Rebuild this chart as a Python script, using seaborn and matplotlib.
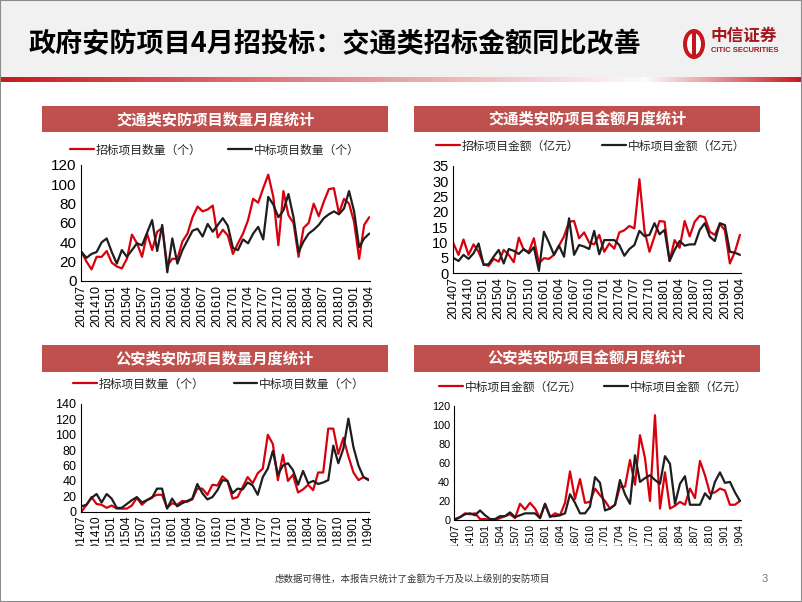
import numpy as np
import pandas as pd
import matplotlib
matplotlib.use('Agg')
import matplotlib.pyplot as plt
import seaborn as sns
from matplotlib.patches import Rectangle, Ellipse

sns.set_theme(style='white')
plt.rcParams['font.family'] = ['Noto Sans CJK SC', 'DejaVu Sans']

# ---- data ----
months = [f'{y}{m:02d}' for y in range(2014, 2020) for m in range(1, 13)]
months = months[months.index('201407'):months.index('201904') + 1]

traffic_count_bid = [30, 20, 12, 25, 25, 31, 19, 15, 13, 23, 48, 39, 25, 49, 32, 51, 55, 16, 23, 23,
                     41, 49, 66, 77, 72, 74, 78, 45, 53, 47, 28, 39, 49, 63, 85, 81, 96, 110, 87, 37,
                     93, 68, 60, 25, 55, 60, 80, 67, 82, 95, 96, 70, 85, 80, 61, 23, 58, 66]
traffic_count_win = [30, 24, 28, 30, 40, 44, 30, 18, 32, 25, 32, 39, 37, 50, 63, 31, 58, 9, 44, 18,
                     32, 42, 52, 54, 46, 59, 51, 58, 65, 57, 34, 32, 43, 39, 49, 56, 43, 87, 79, 66,
                     73, 90, 66, 30, 41, 49, 53, 58, 65, 69, 72, 69, 75, 93, 72, 35, 44, 49]

traffic_amt_bid = [9.7, 6, 11, 6, 9.4, 7, 3, 2.4, 4.7, 3.8, 7.6, 6, 3.6, 11.6, 7.6, 7, 11.4, 3.2, 4.9, 4.7,
                   6, 9, 12, 16.8, 17, 11.4, 13.3, 10, 9.4, 12.5, 7, 9.7, 8, 13.3, 14, 15.4, 14.6, 30.6, 14, 7,
                   12, 17, 16.8, 4, 10.8, 8.3, 17, 12, 16.8, 18.7, 18.2, 13.5, 12.5, 16, 14, 3.2, 7, 12.5]
traffic_amt_win = [5, 4, 6, 4.7, 6.5, 9.7, 2.7, 3, 5.4, 7.6, 3.2, 7.9, 7.3, 6.3, 7.9, 6.5, 8.5, 0.8, 13.5, 10,
                   6, 9, 5.4, 17.9, 6, 9.2, 8.7, 7.9, 13.8, 6.2, 10.8, 10.8, 10.8, 9.2, 5.7, 7.9, 9.2, 13.8, 12.1, 12.5,
                   16.3, 12.7, 14.1, 4, 7.6, 10.5, 9, 9.4, 9.4, 14.1, 16.3, 11.9, 10.5, 16.3, 15.7, 7, 6.7, 6]

police_count_bid = [0, 9, 19, 10, 9, 5, 8, 4, 4, 4, 8, 18, 9, 15, 19, 22, 22, 5, 11, 9,
                    14, 13, 16, 30, 30, 22, 35, 34, 46, 40, 17, 19, 32, 45, 37, 50, 56, 100, 88, 41,
                    74, 40, 48, 25, 29, 35, 28, 51, 51, 108, 108, 75, 96, 72, 51, 41, 45, 42]
police_count_win = [7, 9, 18, 23, 12, 23, 17, 5, 5, 10, 15, 19, 12, 15, 18, 30, 30, 4, 17, 7,
                    11, 14, 17, 36, 24, 16, 19, 28, 41, 40, 24, 30, 29, 38, 34, 22, 45, 56, 79, 48,
                    60, 63, 54, 35, 53, 37, 40, 36, 38, 41, 86, 63, 82, 121, 84, 60, 45, 41]

police_amt_bid = [0, 3, 7, 6, 7, 1, 1, 0, 0, 2, 4, 6, 2, 17, 11, 18, 12, 2, 17, 3,
                  7, 5, 18, 51, 22, 43, 18, 19, 33, 26, 20, 12, 16, 35, 35, 63, 37, 89, 65, 20,
                  110, 12, 50, 12, 15, 19, 16, 33, 23, 62, 47, 28, 29, 33, 31, 16, 16, 20]
police_amt_win = [1, 3, 6, 7, 5, 10, 5, 1, 1, 4, 4, 8, 3, 5, 7, 7, 7, 2, 17, 4,
                  4, 5, 7, 27, 18, 7, 7, 14, 45, 39, 10, 12, 16, 42, 27, 17, 68, 40, 44, 47,
                  42, 38, 67, 59, 17, 38, 46, 16, 16, 16, 28, 22, 40, 50, 39, 40, 29, 20]

page_title = '政府安防项目4月招投标：交通类招标金额同比改善'
footer = '虑数据可得性，本报告只统计了金额为千万及以上级别的安防项目'

RED = '#d9000d'
BLACK = '#1e1e1e'
BAR = '#c0504d'

W, H = 802, 602
fig = plt.figure(figsize=(W / 100, H / 100), dpi=100)
fig.patch.set_facecolor('white')


def fx(px):
    return px / W


def fy(py):
    return 1 - py / H


# ---- header ----
fig.add_artist(Rectangle((0, fy(77)), 1, 77 / H, transform=fig.transFigure,
                         facecolor='#f1f1f1', edgecolor='none', zorder=-2))
grad_ax = fig.add_axes([0, fy(82), 1, 5 / H])
xs = np.linspace(0, 1, 400)
alpha = np.where(xs < 0.8, 1 - xs / 0.8 * 0.97, (xs - 0.8) / 0.2)
img = np.zeros((1, 400, 4))
img[..., 0] = 0.78
img[..., 1] = 0.1
img[..., 2] = 0.12
img[..., 3] = np.clip(alpha, 0, 1)
grad_ax.imshow(img, aspect='auto', extent=(0, 1, 0, 1))
grad_ax.axis('off')

fig.text(fx(28), fy(44), page_title, fontsize=19.5, fontweight='bold',
         color='black', va='center', ha='left')

# logo
fig.add_artist(Ellipse((fx(694), fy(44)), 22 / W, 30 / H, transform=fig.transFigure,
                       facecolor='#c4161c', edgecolor='none'))
fig.add_artist(Ellipse((fx(694), fy(44)), 14 / W, 22 / H, transform=fig.transFigure,
                       facecolor='white', edgecolor='none'))
fig.add_artist(Rectangle((fx(692), fy(55)), 4 / W, 22 / H, transform=fig.transFigure,
                         facecolor='#c4161c', edgecolor='none'))
fig.text(fx(711), fy(36), '中信证券', fontsize=12, fontweight='bold', color='#a3161b',
         va='center', ha='left')
fig.text(fx(711), fy(51), 'CITIC SECURITIES', fontsize=5.5, fontweight='bold', color='#a3161b',
         va='center', ha='left', family='Liberation Sans')

# ---- panels ----
panels = [
    dict(rect=(80.7, 165, 370, 281), bar=(42, 106, 388, 132), title='交通类安防项目数量月度统计',
         labels=['招标项目数量（个）', '中标项目数量（个）'], series=(traffic_count_bid, traffic_count_win),
         ylim=120, ystep=20, yfs=11, xfs=9, leg=(70, 150), colsp=2.3),
    dict(rect=(452.7, 165.7, 740.7, 273.3), bar=(414, 106, 760, 132), title='交通类安防项目金额月度统计',
         labels=['招标项目金额（亿元）', '中标项目金额（亿元）'], series=(traffic_amt_bid, traffic_amt_win),
         ylim=35, ystep=5, yfs=10.5, xfs=9, leg=(436, 146), colsp=2.0),
    dict(rect=(80.7, 404, 369.3, 511.7), bar=(42, 345, 388, 372), title='公安类安防项目数量月度统计',
         labels=['招标项目数量（个）', '中标项目数量（个）'], series=(police_count_bid, police_count_win),
         ylim=140, ystep=20, yfs=9, xfs=8.5, leg=(73, 384), colsp=2.5),
    dict(rect=(454.3, 405.7, 740.7, 520), bar=(414, 345, 760, 372), title='公安类安防项目金额月度统计',
         labels=['中标项目金额（亿元）', '中标项目金额（亿元）'], series=(police_amt_bid, police_amt_win),
         ylim=120, ystep=20, yfs=7.8, xfs=7.6, leg=(439, 387), colsp=1.9),
]

for p in panels:
    x0, y0, x1, y1 = p['bar']
    fig.add_artist(Rectangle((fx(x0), fy(y1)), (x1 - x0) / W, (y1 - y0) / H,
                             transform=fig.transFigure, facecolor=BAR, edgecolor='none'))
    fig.text(fx((x0 + x1) / 2), fy((y0 + y1) / 2), p['title'], color='white',
             fontsize=11, fontweight='bold', ha='center', va='center')

    l, t, r, b = p['rect']
    ax = fig.add_axes([fx(l), fy(b), (r - l) / W, (b - t) / H])
    idx = np.arange(len(months))
    df = pd.DataFrame({'idx': np.concatenate([idx, idx]),
                       'val': list(p['series'][0]) + list(p['series'][1]),
                       'series': [p['labels'][0]] * len(idx) + [p['labels'][1] + ' '] * len(idx)})
    sns.lineplot(data=df, x='idx', y='val', hue='series', palette=[RED, BLACK],
                 linewidth=1.6, ax=ax, legend=False, sort=False)
    ax.set_xlim(-0.15, len(months) - 1 + 0.15)
    ax.set_ylim(0, p['ylim'])
    ax.set_yticks(np.arange(0, p['ylim'] + 1, p['ystep']))
    ax.set_xticks(idx[::3])
    ax.set_xticklabels(months[::3], rotation=90, family='Liberation Sans', fontsize=p['xfs'])
    for lab in ax.get_yticklabels():
        lab.set_family('Liberation Sans')
        lab.set_fontsize(p['yfs'])
    ax.set_xlabel('')
    ax.set_ylabel('')
    ax.tick_params(axis='y', direction='in', length=3, width=0.8, pad=3, colors='black')
    ax.tick_params(axis='x', length=0, pad=3, colors='black')
    for s in ['top', 'right']:
        ax.spines[s].set_visible(False)
    for s in ['left', 'bottom']:
        ax.spines[s].set_color('black')
        ax.spines[s].set_linewidth(0.8)
    ax.set_facecolor('none')
    handles = ax.get_lines()[:2]
    ax.legend(handles, p['labels'], loc='center left', ncol=2, frameon=False,
              bbox_to_anchor=(fx(p['leg'][0]), fy(p['leg'][1])), bbox_transform=fig.transFigure,
              borderpad=0, borderaxespad=0, handlelength=2.0, handletextpad=0.15,
              columnspacing=p['colsp'], prop={'family': 'Noto Sans CJK SC', 'size': 8.5})

# cover that clips the lower x labels
fig.add_artist(Rectangle((fx(30), fy(570)), 780 / W, 24 / H, transform=fig.transFigure,
                         facecolor='white', edgecolor='none', zorder=5))

fig.text(fx(412), fy(579), footer, fontsize=6.8, color='#333333', ha='center', va='center', zorder=6)
fig.text(fx(765), fy(579), '3', fontsize=8, color='#777777', ha='center', va='center',
         family='Liberation Sans', zorder=6)

# slide frame
fig.add_artist(Rectangle((0, 0), 1, 1, transform=fig.transFigure, facecolor='none',
                         edgecolor='#8c8c8c', linewidth=1.5, zorder=7))

fig.savefig('out.png', dpi=100)
